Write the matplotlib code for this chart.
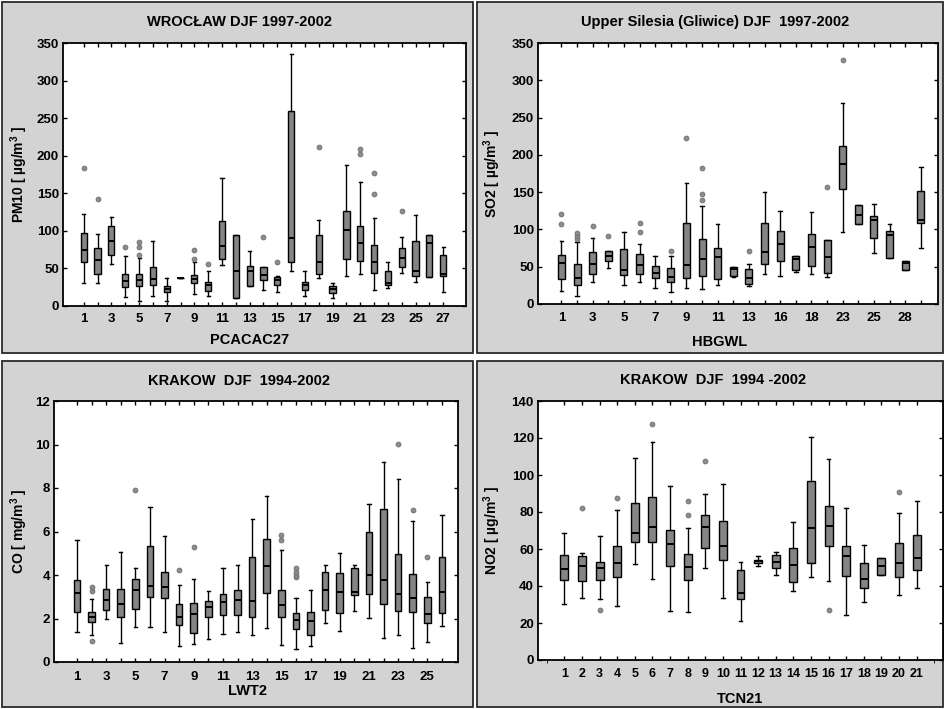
import numpy as np
import matplotlib
matplotlib.use('Agg')
import matplotlib.pyplot as plt
from matplotlib.patches import Rectangle

plt.rcParams['font.family'] = ['Liberation Sans', 'DejaVu Sans']
plt.rcParams['font.weight'] = 'bold'
plt.rcParams['mathtext.fontset'] = 'custom'
plt.rcParams['mathtext.rm'] = 'Liberation Sans:bold'
plt.rcParams['mathtext.bf'] = 'Liberation Sans:bold'

# ---- WROCLAW PM10, PCACAC27 ----
pm10_cat = [str(i) for i in range(1, 28)]
pm10_lo = [30, 31, 56, 12, 7, 13, 7, 37, 16, 13, 55, 10, 26, 21, 18, 46, 13, 37, 11, 40, 42, 21, 24, 44, 32, 39, 18]
pm10_q1 = [58, 43, 68, 25, 27, 28, 18, 37, 31, 20, 62, 10, 27, 35, 28, 58, 21, 42, 17, 62, 60, 44, 28, 52, 40, 39, 40]
pm10_med = [74, 61, 86, 33, 35, 36, 23, 37, 36, 28, 80, 47, 47, 41, 34, 91, 28, 59, 22, 101, 84, 58, 31, 64, 46, 84, 42]
pm10_q3 = [97, 77, 107, 42, 42, 52, 27, 37, 41, 32, 113, 94, 53, 52, 39, 259, 32, 94, 27, 126, 106, 81, 46, 77, 86, 94, 68]
pm10_hi = [122, 96, 119, 66, 64, 86, 37, 37, 58, 46, 170, 94, 73, 52, 40, 336, 46, 115, 31, 187, 165, 117, 59, 92, 121, 94, 79]
pm10_out = [[183], [142], [], [78], [68, 78, 85], [], [], [], [62, 74], [56], [], [], [], [92], [58],
            [], [], [211], [], [], [202, 209], [149, 177], [], [127], [], [], []]

# ---- Upper Silesia SO2, HBGWL ----
so2_cat = ['1', '2', '3', '4', '5', '6', '7', '8', '9', '10', '11', '12', '13', '15', '16', '17',
           '18', '20', '23', '24', '25', '27', '28', '29']
so2_lo = [18, 11, 30, 48, 25, 30, 22, 16, 21, 20, 25, 36, 24, 40, 37, 43, 40, 36, 97, 107, 69, 62, 45, 75]
so2_q1 = [34, 26, 40, 58, 39, 40, 35, 29, 35, 38, 34, 37, 27, 53, 58, 45, 51, 41, 154, 107, 88, 62, 45, 109]
so2_med = [55, 35, 54, 65, 45, 52, 42, 36, 52, 61, 63, 47, 35, 70, 80, 61, 76, 63, 188, 120, 112, 92, 55, 113]
so2_q3 = [66, 54, 70, 71, 74, 67, 51, 48, 109, 87, 75, 49, 47, 109, 98, 65, 94, 86, 212, 133, 118, 98, 58, 151]
so2_hi = [85, 83, 88, 71, 97, 80, 64, 64, 162, 131, 107, 50, 54, 150, 125, 65, 124, 86, 270, 133, 134, 107, 58, 184]
so2_out = [[107, 121], [87, 91, 95], [104], [91], [], [97, 109], [], [71], [222], [140, 148, 182],
           [], [], [71], [], [], [], [], [157], [327], [], [], [], [], []]

# ---- KRAKOW CO, LWT2 ----
co_cat = [str(i) for i in range(1, 27)]
co_lo = [1.38, 1.22, 1.97, 0.87, 1.60, 1.63, 1.38, 0.75, 0.83, 1.07, 1.31, 1.40, 1.22,
         1.56, 0.80, 0.61, 0.72, 1.79, 1.44, 2.33, 2.02, 1.10, 1.26, 0.64, 0.90, 1.64]
co_q1 = [2.28, 1.82, 2.37, 2.05, 2.43, 2.98, 2.92, 1.68, 1.33, 2.05, 2.17, 2.17, 2.06,
         3.15, 2.07, 1.53, 1.26, 2.40, 2.25, 3.09, 3.14, 2.68, 2.33, 2.28, 1.79, 2.25]
co_med = [3.17, 2.09, 2.83, 2.66, 3.32, 3.50, 3.47, 2.09, 2.22, 2.55, 2.78, 2.83, 2.79,
          4.42, 2.60, 1.91, 1.87, 3.31, 3.21, 3.21, 3.98, 3.78, 3.14, 2.94, 2.22, 3.20]
co_q3 = [3.75, 2.28, 3.37, 3.35, 3.81, 5.34, 4.16, 2.66, 2.71, 2.81, 3.14, 3.32, 4.85,
         5.65, 3.32, 2.23, 2.30, 4.12, 4.09, 4.32, 5.97, 7.04, 4.96, 4.06, 2.97, 4.85]
co_hi = [5.62, 2.89, 4.45, 5.08, 4.30, 7.14, 5.81, 3.53, 3.81, 3.26, 4.30, 4.47, 6.58,
         7.65, 5.16, 2.94, 3.32, 4.44, 5.00, 4.47, 7.27, 9.21, 8.40, 6.49, 3.66, 6.77]
co_out = [[], [0.98, 3.27, 3.43], [], [], [7.91], [], [], [4.22], [5.31], [], [], [], [],
          [], [5.59, 5.85], [3.89, 4.01, 4.16, 4.32], [], [], [], [], [], [], [10.01], [7.0], [4.81], []]

# ---- KRAKOW NO2, TCN21 ----
no2_cat = [str(i) for i in range(1, 22)]
no2_lo = [30.2, 33.3, 32.8, 29.3, 52.0, 43.7, 26.6, 26.0, 49.5, 33.6, 21.0, 51.0, 45.9, 37.4, 45.0, 42.8, 24.3, 31.1, 45.9, 35.4, 39.0]
no2_q1 = [43.5, 42.6, 43.5, 45.0, 64.0, 64.0, 51.0, 43.2, 60.8, 54.3, 33.0, 52.2, 49.5, 42.3, 52.2, 61.5, 45.3, 38.7, 45.9, 45.0, 48.9]
no2_med = [49.3, 50.7, 49.5, 52.4, 68.5, 72.0, 62.6, 50.4, 72.0, 61.5, 36.0, 53.4, 53.0, 51.3, 71.6, 72.3, 56.1, 44.0, 50.7, 52.2, 54.9]
no2_q3 = [56.7, 56.0, 53.0, 61.7, 85.1, 88.0, 70.5, 57.2, 78.3, 75.4, 48.6, 54.3, 57.0, 60.3, 96.8, 83.3, 61.5, 52.2, 55.4, 63.0, 67.8]
no2_hi = [68.4, 58.0, 67.0, 81.0, 109.0, 118.0, 94.0, 71.4, 89.6, 95.0, 52.9, 56.0, 58.5, 74.7, 120.6, 108.9, 82.2, 62.0, 55.4, 79.7, 86.0]
no2_out = [[], [82.2], [27.0], [87.6], [], [127.8], [], [78.6, 86.0], [107.4], [], [], [], [],
           [], [], [27.0], [], [], [], [90.9], []]

W, H = 945, 709
fig = plt.figure(figsize=(W / 100, H / 100), dpi=100)


def px_axes(left, right, top, bottom):
    return fig.add_axes([left / W, 1 - bottom / H, (right - left) / W, (bottom - top) / H])


def panel_bg(x0, y0, x1, y1):
    fig.add_artist(Rectangle((x0 / W, 1 - y1 / H), (x1 - x0) / W, (y1 - y0) / H,
                             transform=fig.transFigure, facecolor='#d3d3d3',
                             edgecolor='#2a2a2a', linewidth=1.3, zorder=0))


def draw_panel(ax, cats, lo, q1, med, q3, hi, out, xlim, ymax, ystep,
               ylabel, xlabel, every, xlab_xy, ylpad, xtpad, xtsize=9.5):
    stats = [dict(whislo=a, q1=b, med=c, q3=d, whishi=e, fliers=f)
             for a, b, c, d, e, f in zip(lo, q1, med, q3, hi, out)]
    pos = np.arange(1, len(cats) + 1)
    ax.bxp(stats, positions=pos, widths=0.45, capwidths=0.22, patch_artist=True,
           boxprops=dict(facecolor='#858585', edgecolor='black', linewidth=1),
           medianprops=dict(color='black', linewidth=1.4),
           whiskerprops=dict(color='black', linewidth=1),
           capprops=dict(color='black', linewidth=1),
           flierprops=dict(marker='o', markersize=3.5, markerfacecolor='#8c8c8c',
                           markeredgecolor='#6e6e6e', markeredgewidth=0.6))
    ax.set_xlim(*xlim)
    ax.set_ylim(0, ymax)
    ax.set_yticks(np.arange(0, ymax + ystep / 2, ystep))
    labels = [c if i % every == 0 else '' for i, c in enumerate(cats)]
    ax.set_xticks(pos, labels)
    ax.tick_params(direction='in', top=True, right=True, length=3, width=1)
    ax.tick_params(axis='x', pad=xtpad, labelsize=xtsize)
    ax.tick_params(axis='y', pad=3, labelsize=9.5)
    for lab in ax.get_xticklabels() + ax.get_yticklabels():
        lab.set_fontweight('bold')
    for sp in ax.spines.values():
        sp.set_linewidth(1.3)
    ax.set_ylabel(ylabel, fontsize=10, fontweight='bold', labelpad=ylpad)
    ax.set_xlabel(xlabel, fontsize=10.5, fontweight='bold')
    ax.xaxis.set_label_coords(*xlab_xy)


# panel backgrounds
panel_bg(2, 2, 473, 353)
panel_bg(477, 2, 943, 353)
panel_bg(2, 361, 473, 707)
panel_bg(477, 361, 943, 707)

ax1 = px_axes(63, 466, 43, 306)
draw_panel(ax1, pm10_cat, pm10_lo, pm10_q1, pm10_med, pm10_q3, pm10_hi, pm10_out,
           (-0.5, 28.65), 350, 50, r'PM10 [ µg/m$^{3}$ ]', 'PCACAC27', 2, (0.464, -0.103), 5, 5)

ax2 = px_axes(538, 938, 43, 304)
draw_panel(ax2, so2_cat, so2_lo, so2_q1, so2_med, so2_q3, so2_hi, so2_out,
           (-0.5, 25.1), 350, 50, r'SO2 [ µg/m$^{3}$ ]', 'HBGWL', 2, (0.455, -0.119), 6, 6)

ax3 = px_axes(54, 458, 401, 662)
draw_panel(ax3, co_cat, co_lo, co_q1, co_med, co_q3, co_hi, co_out,
           (-0.57, 27.1), 12, 2, r'CO [ mg/m$^{3}$ ]', 'LWT2', 2, (0.478, -0.084), 4, 6.5)

ax4 = px_axes(538, 943, 401, 660)
draw_panel(ax4, no2_cat, no2_lo, no2_q1, no2_med, no2_q3, no2_hi, no2_out,
           (-0.5, 22.5), 140, 20, r'NO2 [ µg/m$^{3}$ ]', 'TCN21', 1, (0.5, -0.124), 6.5, 6, 9)
ax4.set_xticks(np.arange(0, 23), minor=True)

# titles
fig.text(240 / W, 1 - 22 / H, 'WROCŁAW DJF 1997-2002', ha='center', va='center', fontsize=10.5, fontweight='bold')
fig.text(715 / W, 1 - 22 / H, 'Upper Silesia (Gliwice) DJF  1997-2002', ha='center', va='center', fontsize=10.5, fontweight='bold')
fig.text(239 / W, 1 - 381 / H, 'KRAKOW  DJF  1994-2002', ha='center', va='center', fontsize=10.5, fontweight='bold')
fig.text(713 / W, 1 - 380 / H, 'KRAKOW  DJF  1994 -2002', ha='center', va='center', fontsize=10.5, fontweight='bold')

fig.savefig('out.png', dpi=100)
